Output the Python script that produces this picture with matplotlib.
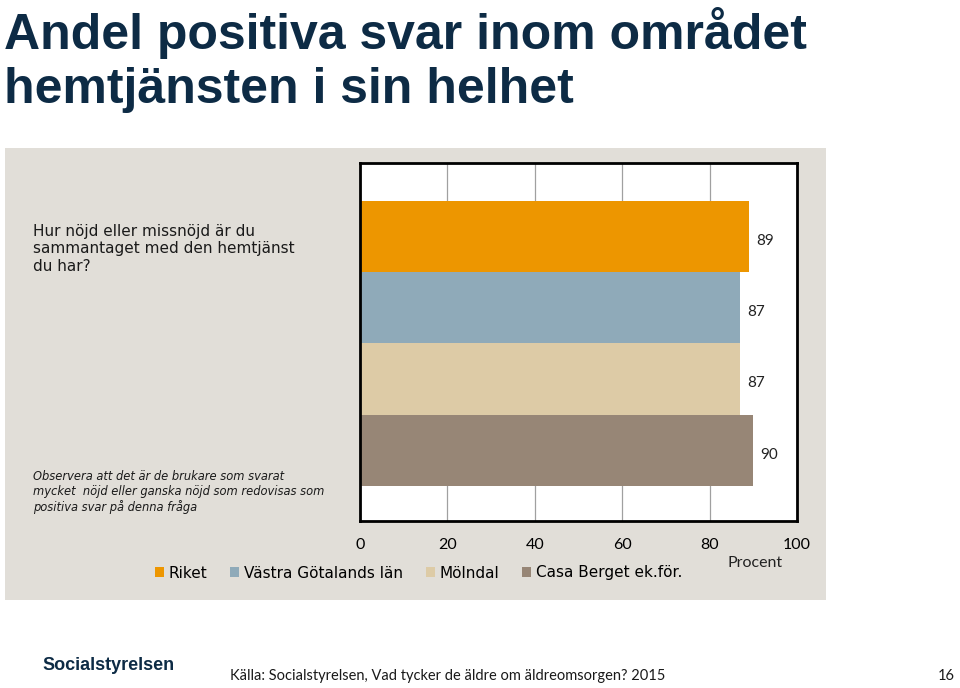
"""Andel positiva svar inom området hemtjänsten i sin helhet."""

import matplotlib.pyplot as plt
from matplotlib.patches import Patch, Rectangle

W, H = 960, 688

series = ["Riket", "Västra Götalands län", "Mölndal", "Casa Berget ek.för."]
values = [89, 87, 87, 90]
colors = ["#ed9600", "#8faab9", "#ddcba6", "#978676"]
xticks = [0, 20, 40, 60, 80, 100]

TITLE_LINES = ["Andel positiva svar inom området", "hemtjänsten i sin helhet"]
QUESTION = "Hur nöjd eller missnöjd är du\nsammantaget med den hemtjänst\ndu har?"
NOTE = ("Observera att det är de brukare som svarat\n"
        "mycket  nöjd eller ganska nöjd som redovisas som\n"
        "positiva svar på denna fråga")
SOURCE = "Källa: Socialstyrelsen, Vad tycker de äldre om äldreomsorgen? 2015"
PAGE = "16"

NAVY = "#0d2b45"
PANEL = "#e1ded8"
FONT = ["Lato", "DejaVu Sans"]
WIDE = ["DejaVu Sans"]


def fx(px):
    return px / W


def fy(py):
    return 1 - py / H


fig = plt.figure(figsize=(W / 100, H / 100), dpi=100)
fig.patch.set_facecolor("white")

# grey panel behind the chart
fig.add_artist(Rectangle((fx(5), fy(600)), fx(826) - fx(5), fy(148) - fy(600),
                         transform=fig.transFigure, facecolor=PANEL,
                         edgecolor="none", zorder=0))

for line, ypx in zip(TITLE_LINES, [28, 85]):
    fig.text(fx(4), fy(ypx), line, fontsize=36, fontweight="bold", color=NAVY,
             family=["Liberation Sans", "DejaVu Sans"], va="center_baseline",
             ha="left")

ax = fig.add_axes([fx(360), fy(521), fx(797) - fx(360), fy(163) - fy(521)])
ax.set_facecolor("white")
ypos = list(range(len(values)))
ax.barh(ypos, values, height=1.0, color=colors, zorder=2)
for y, v in zip(ypos, values):
    ax.annotate(str(v), (v, y), xytext=(5, -3), textcoords="offset points",
                ha="left", va="center", fontsize=11, family=FONT,
                color="#222222")
ax.set_xlim(0, 100)
ax.set_ylim(3.99, -1.03)
ax.set_xticks(xticks)
ax.set_xticklabels([str(t) for t in xticks], family=FONT, fontsize=11.5)
ax.set_yticks([])
ax.tick_params(axis="x", length=0, pad=12)
ax.grid(axis="x", color="#a0a0a0", linewidth=0.9, zorder=1)
for s in ax.spines.values():
    s.set_linewidth(2)
    s.set_color("black")

fig.text(fx(755), fy(563), "Procent", ha="center", va="center",
         fontsize=11.5, family=FONT, color="#222222")

handles = [Patch(facecolor=c, edgecolor="none") for c in colors]
fig.legend(handles, series, loc="center left",
           bbox_to_anchor=(fx(141), fy(573)), ncol=4, frameon=False,
           handlelength=0.6, handleheight=0.6, handletextpad=0.3,
           columnspacing=1.5, prop={"family": WIDE, "size": 11})

fig.text(fx(33), fy(249), QUESTION, ha="left", va="center", fontsize=11,
         family=WIDE, color="#1a1a1a", linespacing=1.22)
fig.text(fx(33), fy(492), NOTE, ha="left", va="center", fontsize=8.3,
         family=WIDE, style="italic", color="#1a1a1a", linespacing=1.22)

fig.text(fx(42), fy(666), "Socialstyrelsen", ha="left", va="center",
         fontsize=13, fontweight="bold", color=NAVY,
         family=["Liberation Sans Narrow", "Liberation Sans", "DejaVu Sans"])
fig.text(fx(230), fy(676), SOURCE, ha="left", va="center", fontsize=10.5,
         family=FONT, color="#1a1a1a")
fig.text(fx(955), fy(676), PAGE, ha="right", va="center", fontsize=10.5,
         family=FONT, color="#1a1a1a")

fig.savefig("out.png", dpi=100)
